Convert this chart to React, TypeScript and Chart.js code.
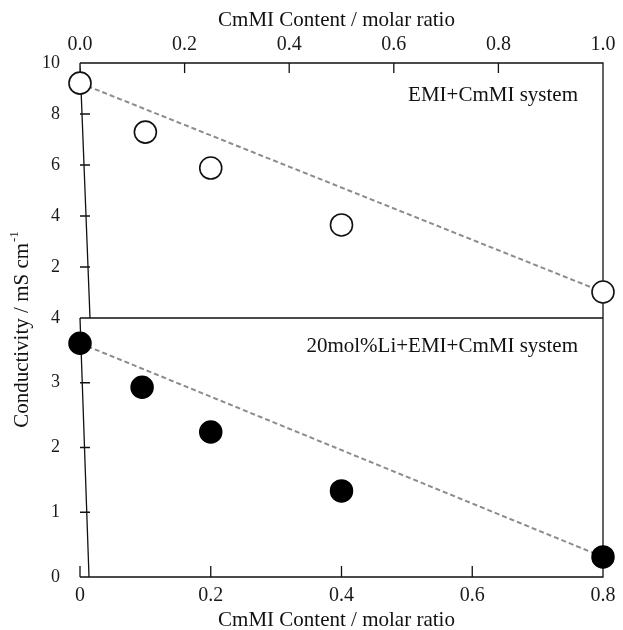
import React, { useEffect, useRef } from 'react';
import { Chart, registerables } from 'chart.js';

Chart.register(...registerables);

// ---- data ----
const topContent = [0, 0.125, 0.25, 0.5, 1.0];
const topConductivity = [9.21, 7.29, 5.88, 3.65, 1.02];
const botContent = [0, 0.095, 0.2, 0.4, 0.8];
const botConductivity = [3.61, 2.93, 2.24, 1.33, 0.31];

const topXTicks = [0, 0.2, 0.4, 0.6, 0.8, 1.0];
const topXLabels = ['0.0', '0.2', '0.4', '0.6', '0.8', '1.0'];
const botXTicks = [0, 0.2, 0.4, 0.6, 0.8];
const botXLabels = ['0', '0.2', '0.4', '0.6', '0.8'];
const topYTicks = [0, 2, 4, 6, 8, 10];
const topYLabels = ['', '2', '4', '6', '8', '10'];
const botYTicks = [0, 1, 2, 3, 4];
const botYLabels = ['0', '1', '2', '3', '4'];

const xTitle = 'CmMI Content / molar ratio';
const yTitle = 'Conductivity / mS cm';
const yTitleSup = '-1';
const topNote = 'EMI+CmMI system';
const botNote = '20mol%Li+EMI+CmMI system';

const FONT = '"Liberation Serif", "Times New Roman", serif';

const labelFrom = (ticks: number[], labels: string[]) => (v: any) => {
  const i = ticks.findIndex((t) => Math.abs(t - Number(v)) < 1e-9);
  return i >= 0 ? labels[i] : '';
};

const framePlugin = {
  id: 'framePlugin',
  beforeDatasetsDraw(chart: any) {
    const { ctx } = chart;
    const xT = chart.scales.xTop;
    const xB = chart.scales.xBot;
    const yT = chart.scales.yTop;
    const yB = chart.scales.yBot;
    const L = chart.chartArea.left;
    const R = chart.chartArea.right;
    const T = yT.top;
    const M = yT.bottom;
    const B = yB.bottom;
    ctx.save();
    ctx.strokeStyle = '#111';
    ctx.lineWidth = 1.3;
    ctx.beginPath();
    ctx.moveTo(L, T);
    ctx.lineTo(R, T);
    ctx.lineTo(R, B);
    ctx.lineTo(L, B);
    ctx.moveTo(L, M);
    ctx.lineTo(R, M);
    // slanted left edges, as in the reference
    ctx.moveTo(L, T);
    ctx.lineTo(L + 10, M);
    ctx.moveTo(L, M);
    ctx.lineTo(L + 9, B);
    topXTicks.forEach((v) => {
      const x = xT.getPixelForValue(v);
      ctx.moveTo(x, T);
      ctx.lineTo(x, T + 10);
    });
    botXTicks.forEach((v) => {
      const x = xB.getPixelForValue(v);
      ctx.moveTo(x, B);
      ctx.lineTo(x, B - 11);
    });
    topYTicks.slice(1, -1).forEach((v) => {
      const y = yT.getPixelForValue(v);
      ctx.moveTo(L, y);
      ctx.lineTo(L + 10, y);
    });
    botYTicks.slice(1, -1).forEach((v) => {
      const y = yB.getPixelForValue(v);
      ctx.moveTo(L, y);
      ctx.lineTo(L + 10, y);
    });
    ctx.stroke();
    ctx.restore();
  },
  afterDraw(chart: any) {
    const { ctx } = chart;
    const L = chart.chartArea.left;
    const R = chart.chartArea.right;
    const yT = chart.scales.yTop;
    const yB = chart.scales.yBot;
    const cx = (L + R) / 2 - 5;
    ctx.save();
    ctx.fillStyle = '#111';
    ctx.textBaseline = 'middle';
    ctx.textAlign = 'center';
    ctx.font = `21px ${FONT}`;
    ctx.fillText(xTitle, cx, 20);
    ctx.fillText(xTitle, cx, 620);

    ctx.textAlign = 'right';
    ctx.fillText(topNote, R - 25, yT.top + 32);
    ctx.fillText(botNote, R - 25, yB.top + 28);

    // rotated y title with superscript
    ctx.save();
    ctx.translate(22, 330);
    ctx.rotate(-Math.PI / 2);
    ctx.textAlign = 'left';
    ctx.font = `21px ${FONT}`;
    const w1 = ctx.measureText(yTitle).width;
    ctx.font = `13px ${FONT}`;
    const w2 = ctx.measureText(yTitleSup).width;
    const x0 = -(w1 + w2) / 2;
    ctx.font = `21px ${FONT}`;
    ctx.fillText(yTitle, x0, 0);
    ctx.font = `13px ${FONT}`;
    ctx.fillText(yTitleSup, x0 + w1 + 1, -7);
    ctx.restore();

    ctx.restore();
  },
};

export default function App() {
  const ref = useRef<HTMLCanvasElement | null>(null);

  useEffect(() => {
    if (!ref.current) return;
    const tickColor = '#1a1a1a';
    const chart = new Chart(ref.current, {
      type: 'scatter',
      data: {
        datasets: [
          {
            label: 'EMI+CmMI',
            data: topContent.map((x, i) => ({ x, y: topConductivity[i] })),
            xAxisID: 'xTop',
            yAxisID: 'yTop',
            pointRadius: 11,
            pointHoverRadius: 11,
            pointBackgroundColor: '#ffffff',
            pointBorderColor: '#111',
            pointBorderWidth: 1.6,
            showLine: false,
            clip: false as any,
            order: 0,
          },
          {
            label: '20mol%Li+EMI+CmMI',
            data: botContent.map((x, i) => ({ x, y: botConductivity[i] })),
            xAxisID: 'xBot',
            yAxisID: 'yBot',
            pointRadius: 11,
            pointHoverRadius: 11,
            pointBackgroundColor: '#000000',
            pointBorderColor: '#000000',
            pointBorderWidth: 1.5,
            showLine: false,
            clip: false as any,
            order: 0,
          },
          {
            label: 'top trend',
            data: [
              { x: topContent[0], y: topConductivity[0] },
              { x: topContent[topContent.length - 1], y: topConductivity[topConductivity.length - 1] },
            ],
            xAxisID: 'xTop',
            yAxisID: 'yTop',
            showLine: true,
            pointRadius: 0,
            borderColor: '#8c8c8c',
            borderWidth: 2,
            borderDash: [5, 3],
            clip: false as any,
            order: 1,
          },
          {
            label: 'bottom trend',
            data: [
              { x: botContent[0], y: botConductivity[0] },
              { x: botContent[botContent.length - 1], y: botConductivity[botConductivity.length - 1] },
            ],
            xAxisID: 'xBot',
            yAxisID: 'yBot',
            showLine: true,
            pointRadius: 0,
            borderColor: '#8c8c8c',
            borderWidth: 2,
            borderDash: [5, 3],
            clip: false as any,
            order: 1,
          },
        ],
      },
      options: {
        animation: false,
        responsive: false,
        devicePixelRatio: 1,
        layout: { padding: { left: 0, top: 0, right: 20, bottom: 0 } },
        plugins: {
          legend: { display: false },
          tooltip: { enabled: false },
          title: { display: false },
        },
        events: [],
        scales: {
          xTop: {
            type: 'linear',
            position: 'top',
            min: 0,
            max: 1,
            afterBuildTicks: (s: any) => {
              s.ticks = topXTicks.map((v) => ({ value: v }));
            },
            afterFit: (s: any) => {
              s.height = 63;
            },
            ticks: {
              callback: labelFrom(topXTicks, topXLabels),
              font: { family: FONT, size: 20 },
              color: tickColor,
              padding: 6,
              maxRotation: 0,
              autoSkip: false,
            },
            grid: { display: false, drawTicks: false },
            border: { display: false },
          },
          xBot: {
            type: 'linear',
            position: 'bottom',
            min: 0,
            max: 0.8,
            afterBuildTicks: (s: any) => {
              s.ticks = botXTicks.map((v) => ({ value: v }));
            },
            afterFit: (s: any) => {
              s.height = 53;
            },
            ticks: {
              callback: labelFrom(botXTicks, botXLabels),
              font: { family: FONT, size: 20 },
              color: tickColor,
              padding: 7,
              maxRotation: 0,
              autoSkip: false,
            },
            grid: { display: false, drawTicks: false },
            border: { display: false },
          },
          yBot: {
            type: 'linear',
            position: 'left',
            stack: 'panels',
            stackWeight: 259,
            weight: 0,
            min: 0,
            max: 4,
            afterBuildTicks: (s: any) => {
              s.ticks = botYTicks.map((v) => ({ value: v }));
            },
            afterFit: (s: any) => {
              s.width = 80;
            },
            ticks: {
              callback: labelFrom(botYTicks, botYLabels),
              font: { family: FONT, size: 18 },
              color: tickColor,
              padding: 20,
              autoSkip: false,
            },
            grid: { display: false, drawTicks: false },
            border: { display: false },
          },
          yTop: {
            type: 'linear',
            position: 'left',
            stack: 'panels',
            stackWeight: 255,
            weight: 1,
            min: 0,
            max: 10,
            afterBuildTicks: (s: any) => {
              s.ticks = topYTicks.map((v) => ({ value: v }));
            },
            afterFit: (s: any) => {
              s.width = 80;
            },
            ticks: {
              callback: labelFrom(topYTicks, topYLabels),
              font: { family: FONT, size: 18 },
              color: tickColor,
              padding: 20,
              autoSkip: false,
            },
            grid: { display: false, drawTicks: false },
            border: { display: false },
          },
        } as any,
      },
      plugins: [framePlugin],
    });
    return () => chart.destroy();
  }, []);

  return (
    <div style={{ position: 'absolute', left: 0, top: 0, width: 623, height: 630, background: '#fff' }}>
      <canvas ref={ref} width={623} height={630} style={{ display: 'block', width: 623, height: 630 }} />
    </div>
  );
}
